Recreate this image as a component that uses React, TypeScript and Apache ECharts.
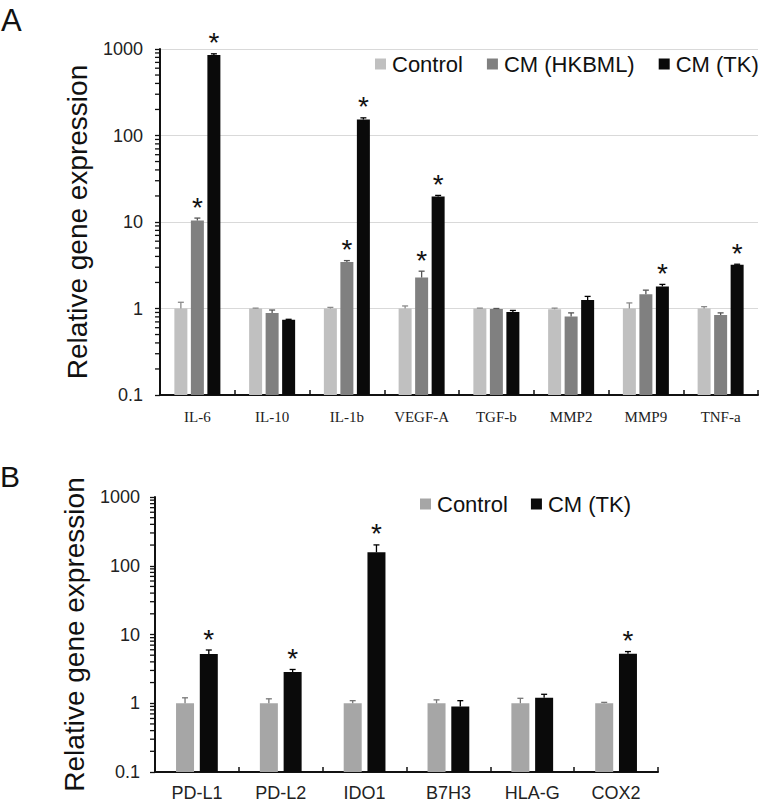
import React, { useEffect, useRef } from "react";
import * as echarts from "echarts";

// Panel A data
const catsA = ["IL-6", "IL-10", "IL-1b", "VEGF-A", "TGF-b", "MMP2", "MMP9", "TNF-a"];
const controlA = [1, 1, 1, 1, 1, 0.98, 1, 1];
const controlAErr = [0.18, 0.01, 0.03, 0.07, 0.01, 0.03, 0.16, 0.05];
const hkbmlA = [10.4, 0.89, 3.45, 2.28, 0.99, 0.81, 1.46, 0.84];
const hkbmlAErr = [0.7, 0.07, 0.13, 0.42, 0.01, 0.08, 0.17, 0.05];
const tkA = [850, 0.74, 153, 19.7, 0.91, 1.25, 1.8, 3.2];
const tkAErr = [30, 0.01, 7, 0.6, 0.04, 0.13, 0.1, 0.05];
const hkbmlASig = [1, 0, 1, 1, 0, 0, 0, 0];
const tkASig = [1, 0, 1, 1, 0, 0, 1, 1];

// Panel B data
const catsB = ["PD-L1", "PD-L2", "IDO1", "B7H3", "HLA-G", "COX2"];
const controlB = [1, 1, 1, 1, 1, 1];
const controlBErr = [0.2, 0.16, 0.09, 0.12, 0.18, 0.03];
const tkB = [5.2, 2.85, 157, 0.9, 1.2, 5.25];
const tkBErr = [0.75, 0.25, 44, 0.19, 0.15, 0.4];
const tkBSig = [1, 1, 1, 0, 0, 1];

// Axis tick labels
const yTicks = [0.1, 1, 10, 100, 1000];
const minorMultipliers = [2, 3, 4, 5, 6, 7, 8, 9];
const decades = [0.1, 1, 10, 100];

const FONT = "'Liberation Sans', Arial, sans-serif";

const minorTickValues: number[] = [];
decades.forEach((d) => minorMultipliers.forEach((m) => minorTickValues.push(+(d * m).toPrecision(3))));

function errSeries(
  name: string,
  xAxisIndex: number,
  yAxisIndex: number,
  vals: number[],
  errs: number[],
  sig: number[],
  offset: number,
  color: string
) {
  return {
    type: "custom",
    name,
    xAxisIndex,
    yAxisIndex,
    z: 5,
    silent: true,
    clip: false,
    encode: { x: 0, y: 1 },
    data: vals.map((v, i) => [i, v, errs[i], sig[i]]),
    renderItem: (params: any, api: any) => {
      const idx = api.value(0);
      const v = api.value(1);
      const e = api.value(2);
      const s = api.value(3);
      const base = api.coord([idx, v]);
      const top = api.coord([idx, v + e]);
      const x = base[0] + offset;
      const children: any[] = [
        {
          type: "line",
          shape: { x1: x, y1: base[1], x2: x, y2: top[1] },
          style: { stroke: color, lineWidth: 1.3 },
        },
        {
          type: "line",
          shape: { x1: x - 3, y1: top[1], x2: x + 3, y2: top[1] },
          style: { stroke: color, lineWidth: 1.3 },
        },
      ];
      if (s) {
        children.push({
          type: "text",
          x: x,
          y: top[1] - 11,
          style: {
            text: "*",
            font: `28px ${FONT}`,
            fill: "#111",
            align: "center",
            verticalAlign: "middle",
          },
        });
      }
      return { type: "group", children };
    },
  };
}

function minorTickSeries(name: string, xAxisIndex: number, yAxisIndex: number) {
  return {
    type: "custom",
    name,
    xAxisIndex,
    yAxisIndex,
    z: 6,
    silent: true,
    clip: false,
    encode: { x: 0, y: 1 },
    data: minorTickValues.map((v) => [0, v]),
    renderItem: (params: any, api: any) => {
      const p = api.coord([0, api.value(1)]);
      const band = api.size([1, 0]);
      const x0 = p[0] - band[0] / 2;
      return {
        type: "line",
        shape: { x1: x0 - 5, y1: p[1], x2: x0, y2: p[1] },
        style: { stroke: "#111", lineWidth: 1.3 },
      };
    },
  };
}

function yAxisCfg(gridIndex: number, nameGap: number, labelMargin: number, showSplit: boolean) {
  return {
    type: "log",
    gridIndex,
    logBase: 10,
    min: 0.1,
    max: 1000,
    startValue: 0.1,
    name: "Relative gene expression",
    nameLocation: "middle",
    nameGap,
    nameTextStyle: { fontSize: 28, color: "#111", fontFamily: FONT },
    axisLine: { show: true, lineStyle: { color: "#111", width: 2 } },
    axisTick: { show: true, length: 5, lineStyle: { color: "#111", width: 1.3 } },
    axisLabel: {
      fontSize: 18,
      color: "#222",
      fontFamily: FONT,
      margin: labelMargin,
      formatter: (v: number) => {
        const hit = yTicks.find((t) => Math.abs(t - v) / t < 1e-6);
        return hit !== undefined ? String(hit) : "";
      },
    },
    splitLine: { show: showSplit, lineStyle: { color: "#d9d9d9", width: 1.2 } },
  };
}

export default function App() {
  const ref = useRef<HTMLDivElement>(null);
  useEffect(() => {
    if (!ref.current) return;
    const chart = echarts.init(ref.current, null, { renderer: "svg" });
    const barWA = 13;
    const gapA = 0.27;
    const stepA = barWA * (1 + gapA);
    const barWB = 18;
    const gapB = 0.32;
    const stepB = barWB * (1 + gapB);
    chart.setOption({
      animation: false,
      backgroundColor: "#fff",
      textStyle: { fontFamily: FONT },
      graphic: [
        { type: "text", left: 1, top: 5, style: { text: "A", font: `31px ${FONT}`, fill: "#111" } },
        { type: "text", left: 0, top: 461, style: { text: "B", font: `30px ${FONT}`, fill: "#111" } },
      ],
      legend: [
        {
          left: 375,
          top: 53,
          padding: 0,
          itemWidth: 11,
          itemHeight: 11,
          itemGap: 24,
          icon: "rect",
          textStyle: { fontSize: 22, color: "#111", fontFamily: FONT, padding: [0, 0, 0, 1] },
          selectedMode: false,
          data: [
            { name: "Control", itemStyle: { color: "#c0c0c0" } },
            { name: "CM (HKBML)", itemStyle: { color: "#808080" } },
            { name: "CM (TK)", itemStyle: { color: "#0a0a0a" } },
          ],
        },
        {
          left: 420,
          top: 493,
          padding: 0,
          itemWidth: 11,
          itemHeight: 11,
          itemGap: 23,
          icon: "rect",
          textStyle: { fontSize: 22, color: "#111", fontFamily: FONT, padding: [0, 0, 0, 1] },
          selectedMode: false,
          data: [
            { name: "Control", itemStyle: { color: "#a6a6a6" } },
            { name: "CM (TK)", itemStyle: { color: "#0a0a0a" } },
          ],
        },
      ],
      grid: [
        { left: 160, top: 49, width: 598, height: 346, containLabel: false },
        { left: 155, top: 497, width: 503, height: 275, containLabel: false },
      ],
      xAxis: [
        {
          type: "category",
          gridIndex: 0,
          data: catsA,
          axisLine: { lineStyle: { color: "#111", width: 2 } },
          axisTick: { show: true, inside: true, length: 5, lineStyle: { color: "#111", width: 1.5 } },
          axisLabel: { fontSize: 15, color: "#222", fontFamily: "'Liberation Serif', 'Times New Roman', serif", margin: 14 },
        },
        {
          type: "category",
          gridIndex: 1,
          data: catsB,
          axisLine: { lineStyle: { color: "#111", width: 2 } },
          axisTick: { show: true, inside: true, length: 5, lineStyle: { color: "#111", width: 1.5 } },
          axisLabel: { fontSize: 18, color: "#222", fontFamily: FONT, margin: 12 },
        },
      ],
      yAxis: [yAxisCfg(0, 69, 17, true), yAxisCfg(1, 67, 15, false)],
      series: [
        { type: "bar", name: "Control", xAxisIndex: 0, yAxisIndex: 0, data: controlA, barWidth: barWA, barGap: "27%", itemStyle: { color: "#c0c0c0" } },
        { type: "bar", name: "CM (HKBML)", xAxisIndex: 0, yAxisIndex: 0, data: hkbmlA, barWidth: barWA, barGap: "27%", itemStyle: { color: "#808080" } },
        { type: "bar", name: "CM (TK)", xAxisIndex: 0, yAxisIndex: 0, data: tkA, barWidth: barWA, barGap: "27%", itemStyle: { color: "#0a0a0a" } },
        { type: "bar", name: "Control", xAxisIndex: 1, yAxisIndex: 1, data: controlB, barWidth: barWB, barGap: "32%", itemStyle: { color: "#a6a6a6" } },
        { type: "bar", name: "CM (TK)", xAxisIndex: 1, yAxisIndex: 1, data: tkB, barWidth: barWB, barGap: "32%", itemStyle: { color: "#0a0a0a" } },
        errSeries("errA0", 0, 0, controlA, controlAErr, controlA.map(() => 0), -stepA, "#8a8a8a"),
        errSeries("errA1", 0, 0, hkbmlA, hkbmlAErr, hkbmlASig, 0, "#555"),
        errSeries("errA2", 0, 0, tkA, tkAErr, tkASig, stepA, "#000"),
        errSeries("errB0", 1, 1, controlB, controlBErr, controlB.map(() => 0), -stepB / 2, "#777"),
        errSeries("errB1", 1, 1, tkB, tkBErr, tkBSig, stepB / 2, "#000"),
        minorTickSeries("minorA", 0, 0),
        minorTickSeries("minorB", 1, 1),
      ],
    });
    return () => chart.dispose();
  }, []);
  return (
    <div
      ref={ref}
      style={{ position: "absolute", left: 0, top: 0, width: 767, height: 807, background: "#fff" }}
    />
  );
}
